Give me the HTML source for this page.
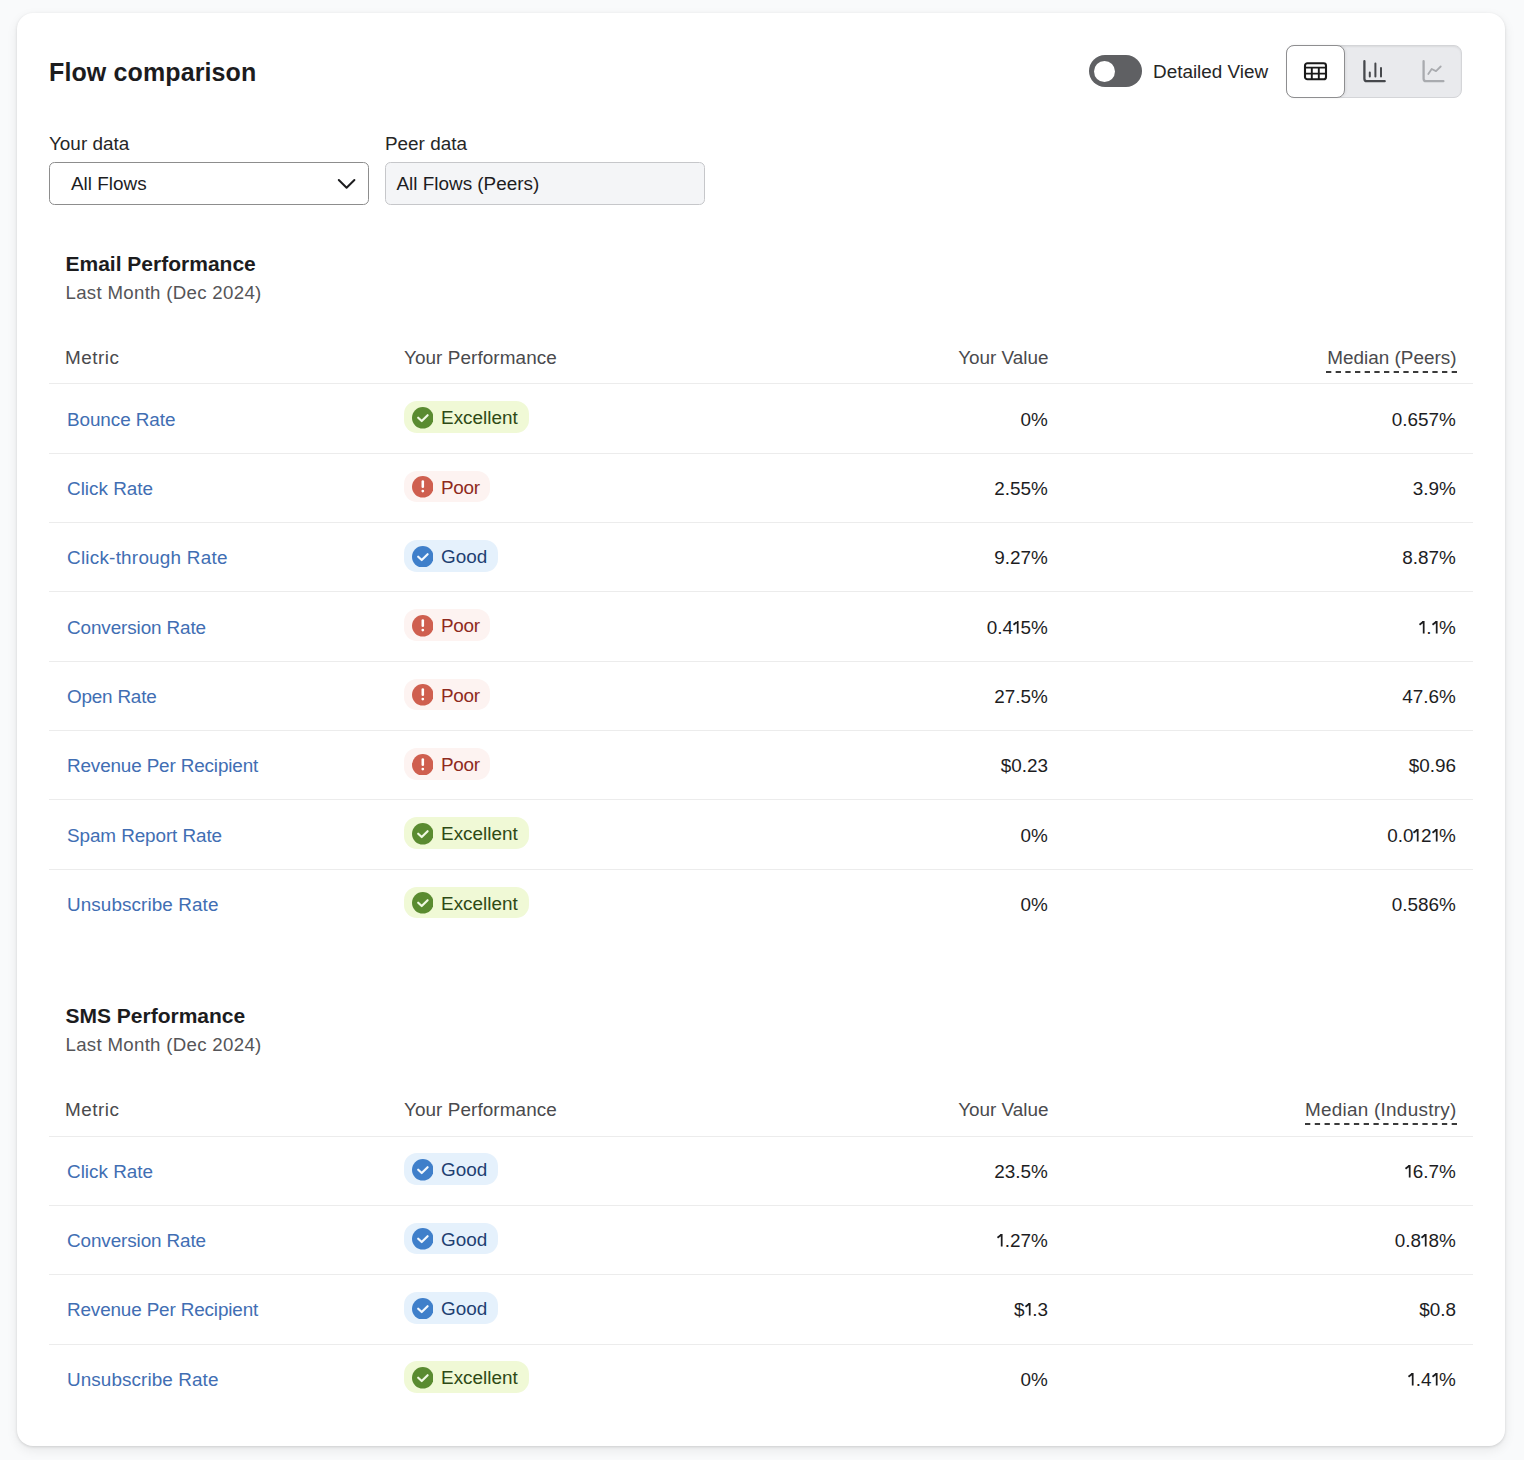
<!DOCTYPE html>
<html><head><meta charset="utf-8"><title>Flow comparison</title>
<style>
*{box-sizing:border-box;margin:0;padding:0}
html,body{width:1524px;height:1460px;overflow:hidden}
body{background:#f9fafb;font-family:"Liberation Sans",sans-serif;color:#1d1d1f;position:relative}
.card{position:absolute;left:17px;top:13px;width:1488px;height:1433px;background:#fff;border-radius:16px;box-shadow:0 1px 3px rgba(0,0,0,0.13),0 4px 12px rgba(0,0,0,0.075)}
.t{position:absolute;white-space:nowrap}
.title{font-weight:bold;color:#1c1c1e}
.lbl{color:#262626}
.sec{font-weight:bold;color:#1c1c1e}
.sub{color:#555558}
.th{color:#4a4a4d}
.lk{color:#416eb3}
.val{color:#1d1d1f}
.one{display:inline-block;vertical-align:baseline;overflow:visible}

.hl{position:absolute;left:49px;width:1424px;height:1px;background:#ececec}
.toggle{position:absolute;left:1089px;top:55px;width:53px;height:32px;border-radius:16px;background:#5f6063}
.toggle::after{content:"";position:absolute;left:5px;top:5.5px;width:21px;height:21px;border-radius:50%;background:#fff}
.seg{position:absolute;left:1286px;top:45px;width:176px;height:53px;border-radius:8px;background:#e9eaed;border:1px solid #d4d5d8;box-shadow:inset 0 1px 2px rgba(0,0,0,0.07)}
.seg .on{position:absolute;left:-1px;top:-1px;width:59px;height:53px;border-radius:8px;background:#fff;border:1px solid #8e8e90;box-shadow:1px 0 3px rgba(0,0,0,0.07)}
.sel{position:absolute;top:162px;width:320px;height:43px;border-radius:5.5px;border:1px solid #8d8d8d;background:#fff}
.peer{background:#f4f5f7;border-color:#c6c7ca}
.b{position:absolute;left:403.7px;display:flex;align-items:center;height:31.8px;border-radius:13px;padding:0 11.1px 0 7.9px;font-size:18.9px;line-height:22px}
.b svg{width:21.6px;height:21.6px;margin-right:7.9px;flex:none;position:relative;top:0.55px}
.b span{position:relative;top:1.15px}
.ex{background:#f0f9d6;color:#2e4a15}
.po{padding-right:10.2px;letter-spacing:-0.3px;background:#fdf3f1;color:#8e2a20}
.go{background:#e5f1fc;color:#1e3f72}
</style></head><body>
<div class="card"></div>
<div class="t title" style="left:49.00px;top:57.04px;font-size:25px;line-height:30px;letter-spacing:0.12px">Flow comparison</div>
<div class="toggle"></div>
<div class="t lbl" style="left:1153.00px;top:61.45px;font-size:18.9px;line-height:22px;">Detailed View</div>
<div class="seg"><div class="on"></div></div>

<svg style="position:absolute;left:1302px;top:60px" width="27" height="22" viewBox="0 0 27 22">
 <rect x="3" y="3.3" width="21" height="16" rx="2.4" fill="none" stroke="#1a1a1a" stroke-width="2.1"/>
 <path d="M3 7.6 H24 M3 13.6 H24 M9.8 7.6 V19.3 M16.8 7.6 V19.3" stroke="#1a1a1a" stroke-width="1.9"/>
</svg>
<svg style="position:absolute;left:1360px;top:58px" width="30" height="28" viewBox="0 0 30 28">
 <path d="M4.4 3.2 V20.7 Q4.4 23.2 6.9 23.2 H24.7" fill="none" stroke="#46484c" stroke-width="2.3" stroke-linecap="round"/>
 <path d="M9.8 14.6 V18.5 M15.4 5.4 V18.5 M21 10 V18.5" stroke="#46484c" stroke-width="2" stroke-linecap="round"/>
</svg>
<svg style="position:absolute;left:1419px;top:58px" width="30" height="28" viewBox="0 0 30 28">
 <path d="M4.6 3.2 V20.7 Q4.6 23.2 7.1 23.2 H24.4" fill="none" stroke="#a9abaf" stroke-width="2.3" stroke-linecap="round"/>
 <path d="M9.3 16.1 L12.7 11 L17 13.1 L21.7 8.5" fill="none" stroke="#a9abaf" stroke-width="1.8" stroke-linecap="round" stroke-linejoin="round"/>
</svg>

<div class="t lbl" style="left:49.00px;top:133.45px;font-size:18.9px;line-height:22px;">Your data</div>
<div class="t lbl" style="left:385.00px;top:133.45px;font-size:18.9px;line-height:22px;">Peer data</div>
<div class="sel" style="left:49px"></div>
<svg style="position:absolute;left:337px;top:177px" width="20" height="14" viewBox="0 0 20 14"><path d="M1.8 3 L9.6 10.8 L17.4 3" fill="none" stroke="#1d1d1f" stroke-width="2.0" stroke-linecap="round" stroke-linejoin="round"/></svg>
<div class="t val" style="left:71.00px;top:172.55px;font-size:18.9px;line-height:22px;">All Flows</div>
<div class="sel peer" style="left:385px"></div>
<div class="t val" style="left:396.50px;top:172.75px;font-size:18.9px;line-height:22px;">All Flows (Peers)</div>
<div class="t sec" style="left:65.50px;top:251.12px;font-size:21px;line-height:26px;">Email Performance</div>
<div class="t sub" style="left:65.50px;top:281.93px;font-size:18.67px;line-height:22px;letter-spacing:0.3px">Last Month (Dec 2024)</div>
<div class="t th" style="left:65.00px;top:346.85px;font-size:18.9px;line-height:22px;letter-spacing:0.5px">Metric</div>
<div class="t th" style="left:404.00px;top:346.85px;font-size:18.9px;line-height:22px;letter-spacing:0.08px">Your Performance</div>
<div class="t th" style="right:475.50px;top:346.85px;font-size:18.9px;line-height:22px;">Your Value</div>
<div class="t th" style="right:67.50px;top:346.85px;font-size:18.9px;line-height:22px;letter-spacing:0">Median (Peers)</div>
<svg style="position:absolute;left:1326px;top:371.20px" width="131" height="2" viewBox="0 0 131 2"><line x1="0" y1="1" x2="131" y2="1" stroke="#3a3a3a" stroke-width="2" stroke-dasharray="5.3 4.369"/></svg>
<div class="hl" style="top:383px"></div>
<div class="hl" style="top:453px"></div>
<div class="hl" style="top:522px"></div>
<div class="hl" style="top:591px"></div>
<div class="hl" style="top:661px"></div>
<div class="hl" style="top:730px"></div>
<div class="hl" style="top:799px"></div>
<div class="hl" style="top:869px"></div>
<div class="t lk" style="left:67.00px;top:408.85px;font-size:18.9px;line-height:22px;letter-spacing:-0.08px">Bounce Rate</div>
<div class="b ex" style="top:401.30px"><svg viewBox="0 0 22 22"><circle cx="11" cy="11" r="11" fill="#5a8b30"/><path d="M6.3 10.9 L9.9 14.3 L15.9 8.3" fill="none" stroke="#f0f9e2" stroke-width="2.2" stroke-linecap="round" stroke-linejoin="round"/></svg><span>Excellent</span></div>
<div class="t val" style="right:476.10px;top:408.85px;font-size:18.9px;line-height:22px;">0%</div>
<div class="t val" style="right:68.10px;top:408.85px;font-size:18.9px;line-height:22px;">0.657%</div>
<div class="t lk" style="left:67.00px;top:477.85px;font-size:18.9px;line-height:22px;letter-spacing:0px">Click Rate</div>
<div class="b po" style="top:470.63px"><svg viewBox="0 0 22 22"><circle cx="11" cy="11" r="11" fill="#cf5f4f"/><path d="M11 5.6 L11 11" stroke="#fff" stroke-width="2.6" stroke-linecap="round"/><circle cx="11" cy="15.4" r="1.4" fill="#fff"/></svg><span>Poor</span></div>
<div class="t val" style="right:476.10px;top:477.85px;font-size:18.9px;line-height:22px;">2.55%</div>
<div class="t val" style="right:68.10px;top:477.85px;font-size:18.9px;line-height:22px;">3.9%</div>
<div class="t lk" style="left:67.00px;top:546.85px;font-size:18.9px;line-height:22px;letter-spacing:0.235px">Click-through Rate</div>
<div class="b go" style="top:539.97px"><svg viewBox="0 0 22 22"><circle cx="11" cy="11" r="11" fill="#3f7fca"/><path d="M6.3 10.9 L9.9 14.3 L15.9 8.3" fill="none" stroke="#f2f8fe" stroke-width="2.2" stroke-linecap="round" stroke-linejoin="round"/></svg><span>Good</span></div>
<div class="t val" style="right:476.10px;top:546.85px;font-size:18.9px;line-height:22px;">9.27%</div>
<div class="t val" style="right:68.10px;top:546.85px;font-size:18.9px;line-height:22px;">8.87%</div>
<div class="t lk" style="left:67.00px;top:616.85px;font-size:18.9px;line-height:22px;letter-spacing:-0.114px">Conversion Rate</div>
<div class="b po" style="top:609.30px"><svg viewBox="0 0 22 22"><circle cx="11" cy="11" r="11" fill="#cf5f4f"/><path d="M11 5.6 L11 11" stroke="#fff" stroke-width="2.6" stroke-linecap="round"/><circle cx="11" cy="15.4" r="1.4" fill="#fff"/></svg><span>Poor</span></div>
<div class="t val" style="right:476.10px;top:616.85px;font-size:18.9px;line-height:22px;">0.4<svg class="one" width="7.6" height="13.4" viewBox="0 0 7.6 13.4"><path d="M4.7 13.4 V1.0 M4.3 1.7 L0.5 4.7" stroke="currentColor" stroke-width="1.75" fill="none" stroke-linecap="butt"/></svg>5%</div>
<div class="t val" style="right:68.10px;top:616.85px;font-size:18.9px;line-height:22px;"><svg class="one" width="7.6" height="13.4" viewBox="0 0 7.6 13.4"><path d="M4.7 13.4 V1.0 M4.3 1.7 L0.5 4.7" stroke="currentColor" stroke-width="1.75" fill="none" stroke-linecap="butt"/></svg>.<svg class="one" width="7.6" height="13.4" viewBox="0 0 7.6 13.4"><path d="M4.7 13.4 V1.0 M4.3 1.7 L0.5 4.7" stroke="currentColor" stroke-width="1.75" fill="none" stroke-linecap="butt"/></svg>%</div>
<div class="t lk" style="left:67.00px;top:685.85px;font-size:18.9px;line-height:22px;letter-spacing:-0.21px">Open Rate</div>
<div class="b po" style="top:678.63px"><svg viewBox="0 0 22 22"><circle cx="11" cy="11" r="11" fill="#cf5f4f"/><path d="M11 5.6 L11 11" stroke="#fff" stroke-width="2.6" stroke-linecap="round"/><circle cx="11" cy="15.4" r="1.4" fill="#fff"/></svg><span>Poor</span></div>
<div class="t val" style="right:476.10px;top:685.85px;font-size:18.9px;line-height:22px;">27.5%</div>
<div class="t val" style="right:68.10px;top:685.85px;font-size:18.9px;line-height:22px;">47.6%</div>
<div class="t lk" style="left:67.00px;top:754.85px;font-size:18.9px;line-height:22px;letter-spacing:-0.15px">Revenue Per Recipient</div>
<div class="b po" style="top:747.96px"><svg viewBox="0 0 22 22"><circle cx="11" cy="11" r="11" fill="#cf5f4f"/><path d="M11 5.6 L11 11" stroke="#fff" stroke-width="2.6" stroke-linecap="round"/><circle cx="11" cy="15.4" r="1.4" fill="#fff"/></svg><span>Poor</span></div>
<div class="t val" style="right:476.10px;top:754.85px;font-size:18.9px;line-height:22px;">$0.23</div>
<div class="t val" style="right:68.10px;top:754.85px;font-size:18.9px;line-height:22px;">$0.96</div>
<div class="t lk" style="left:67.00px;top:824.85px;font-size:18.9px;line-height:22px;letter-spacing:-0.093px">Spam Report Rate</div>
<div class="b ex" style="top:817.30px"><svg viewBox="0 0 22 22"><circle cx="11" cy="11" r="11" fill="#5a8b30"/><path d="M6.3 10.9 L9.9 14.3 L15.9 8.3" fill="none" stroke="#f0f9e2" stroke-width="2.2" stroke-linecap="round" stroke-linejoin="round"/></svg><span>Excellent</span></div>
<div class="t val" style="right:476.10px;top:824.85px;font-size:18.9px;line-height:22px;">0%</div>
<div class="t val" style="right:68.10px;top:824.85px;font-size:18.9px;line-height:22px;">0.0<svg class="one" width="7.6" height="13.4" viewBox="0 0 7.6 13.4"><path d="M4.7 13.4 V1.0 M4.3 1.7 L0.5 4.7" stroke="currentColor" stroke-width="1.75" fill="none" stroke-linecap="butt"/></svg>2<svg class="one" width="7.6" height="13.4" viewBox="0 0 7.6 13.4"><path d="M4.7 13.4 V1.0 M4.3 1.7 L0.5 4.7" stroke="currentColor" stroke-width="1.75" fill="none" stroke-linecap="butt"/></svg>%</div>
<div class="t lk" style="left:67.00px;top:893.85px;font-size:18.9px;line-height:22px;letter-spacing:0.087px">Unsubscribe Rate</div>
<div class="b ex" style="top:886.63px"><svg viewBox="0 0 22 22"><circle cx="11" cy="11" r="11" fill="#5a8b30"/><path d="M6.3 10.9 L9.9 14.3 L15.9 8.3" fill="none" stroke="#f0f9e2" stroke-width="2.2" stroke-linecap="round" stroke-linejoin="round"/></svg><span>Excellent</span></div>
<div class="t val" style="right:476.10px;top:893.85px;font-size:18.9px;line-height:22px;">0%</div>
<div class="t val" style="right:68.10px;top:893.85px;font-size:18.9px;line-height:22px;">0.586%</div>
<div class="t sec" style="left:65.50px;top:1003.12px;font-size:21px;line-height:26px;">SMS Performance</div>
<div class="t sub" style="left:65.50px;top:1033.93px;font-size:18.67px;line-height:22px;letter-spacing:0.3px">Last Month (Dec 2024)</div>
<div class="t th" style="left:65.00px;top:1098.85px;font-size:18.9px;line-height:22px;letter-spacing:0.5px">Metric</div>
<div class="t th" style="left:404.00px;top:1098.85px;font-size:18.9px;line-height:22px;letter-spacing:0.08px">Your Performance</div>
<div class="t th" style="right:475.50px;top:1098.85px;font-size:18.9px;line-height:22px;">Your Value</div>
<div class="t th" style="right:67.50px;top:1098.85px;font-size:18.9px;line-height:22px;letter-spacing:0.27px">Median (Industry)</div>
<svg style="position:absolute;left:1305px;top:1123.20px" width="152" height="2" viewBox="0 0 152 2"><line x1="0" y1="1" x2="152" y2="1" stroke="#3a3a3a" stroke-width="2" stroke-dasharray="5.3 4.480"/></svg>
<div class="hl" style="top:1136px"></div>
<div class="hl" style="top:1205px"></div>
<div class="hl" style="top:1274px"></div>
<div class="hl" style="top:1344px"></div>
<div class="t lk" style="left:67.00px;top:1160.85px;font-size:18.9px;line-height:22px;letter-spacing:0px">Click Rate</div>
<div class="b go" style="top:1153.30px"><svg viewBox="0 0 22 22"><circle cx="11" cy="11" r="11" fill="#3f7fca"/><path d="M6.3 10.9 L9.9 14.3 L15.9 8.3" fill="none" stroke="#f2f8fe" stroke-width="2.2" stroke-linecap="round" stroke-linejoin="round"/></svg><span>Good</span></div>
<div class="t val" style="right:476.10px;top:1160.85px;font-size:18.9px;line-height:22px;">23.5%</div>
<div class="t val" style="right:68.10px;top:1160.85px;font-size:18.9px;line-height:22px;"><svg class="one" width="7.6" height="13.4" viewBox="0 0 7.6 13.4"><path d="M4.7 13.4 V1.0 M4.3 1.7 L0.5 4.7" stroke="currentColor" stroke-width="1.75" fill="none" stroke-linecap="butt"/></svg>6.7%</div>
<div class="t lk" style="left:67.00px;top:1229.85px;font-size:18.9px;line-height:22px;letter-spacing:-0.114px">Conversion Rate</div>
<div class="b go" style="top:1222.63px"><svg viewBox="0 0 22 22"><circle cx="11" cy="11" r="11" fill="#3f7fca"/><path d="M6.3 10.9 L9.9 14.3 L15.9 8.3" fill="none" stroke="#f2f8fe" stroke-width="2.2" stroke-linecap="round" stroke-linejoin="round"/></svg><span>Good</span></div>
<div class="t val" style="right:476.10px;top:1229.85px;font-size:18.9px;line-height:22px;"><svg class="one" width="7.6" height="13.4" viewBox="0 0 7.6 13.4"><path d="M4.7 13.4 V1.0 M4.3 1.7 L0.5 4.7" stroke="currentColor" stroke-width="1.75" fill="none" stroke-linecap="butt"/></svg>.27%</div>
<div class="t val" style="right:68.10px;top:1229.85px;font-size:18.9px;line-height:22px;">0.8<svg class="one" width="7.6" height="13.4" viewBox="0 0 7.6 13.4"><path d="M4.7 13.4 V1.0 M4.3 1.7 L0.5 4.7" stroke="currentColor" stroke-width="1.75" fill="none" stroke-linecap="butt"/></svg>8%</div>
<div class="t lk" style="left:67.00px;top:1298.85px;font-size:18.9px;line-height:22px;letter-spacing:-0.15px">Revenue Per Recipient</div>
<div class="b go" style="top:1291.97px"><svg viewBox="0 0 22 22"><circle cx="11" cy="11" r="11" fill="#3f7fca"/><path d="M6.3 10.9 L9.9 14.3 L15.9 8.3" fill="none" stroke="#f2f8fe" stroke-width="2.2" stroke-linecap="round" stroke-linejoin="round"/></svg><span>Good</span></div>
<div class="t val" style="right:476.10px;top:1298.85px;font-size:18.9px;line-height:22px;">$<svg class="one" width="7.6" height="13.4" viewBox="0 0 7.6 13.4"><path d="M4.7 13.4 V1.0 M4.3 1.7 L0.5 4.7" stroke="currentColor" stroke-width="1.75" fill="none" stroke-linecap="butt"/></svg>.3</div>
<div class="t val" style="right:68.10px;top:1298.85px;font-size:18.9px;line-height:22px;">$0.8</div>
<div class="t lk" style="left:67.00px;top:1368.85px;font-size:18.9px;line-height:22px;letter-spacing:0.087px">Unsubscribe Rate</div>
<div class="b ex" style="top:1361.30px"><svg viewBox="0 0 22 22"><circle cx="11" cy="11" r="11" fill="#5a8b30"/><path d="M6.3 10.9 L9.9 14.3 L15.9 8.3" fill="none" stroke="#f0f9e2" stroke-width="2.2" stroke-linecap="round" stroke-linejoin="round"/></svg><span>Excellent</span></div>
<div class="t val" style="right:476.10px;top:1368.85px;font-size:18.9px;line-height:22px;">0%</div>
<div class="t val" style="right:68.10px;top:1368.85px;font-size:18.9px;line-height:22px;"><svg class="one" width="7.6" height="13.4" viewBox="0 0 7.6 13.4"><path d="M4.7 13.4 V1.0 M4.3 1.7 L0.5 4.7" stroke="currentColor" stroke-width="1.75" fill="none" stroke-linecap="butt"/></svg>.4<svg class="one" width="7.6" height="13.4" viewBox="0 0 7.6 13.4"><path d="M4.7 13.4 V1.0 M4.3 1.7 L0.5 4.7" stroke="currentColor" stroke-width="1.75" fill="none" stroke-linecap="butt"/></svg>%</div>
</body></html>
